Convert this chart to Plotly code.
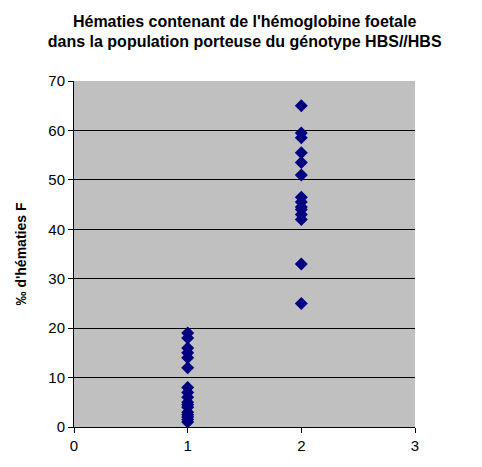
import plotly.graph_objects as go

group1_x = [1] * 17
group1_y = [19, 18, 16, 15, 14, 12, 8, 7, 6, 5, 4.5, 4, 3, 2.5, 2, 1.5, 1]
group2_x = [2] * 14
group2_y = [65, 59.5, 58.5, 55.5, 53.5, 51, 46.5, 45.5, 44.5, 44, 43, 42, 33, 25]

x_vals = group1_x + group2_x
y_vals = group1_y + group2_y

title_text = "Hématies contenant de l'hémoglobine foetale<br>dans la population porteuse du génotype HBS//HBS"
y_title = "‰ d'hématies F"

fig = go.Figure()
fig.add_trace(go.Scatter(
    x=x_vals, y=y_vals, mode="markers",
    marker=dict(symbol="diamond", size=10, color="#000080", line=dict(width=0)),
    showlegend=False,
))

fig.update_layout(
    width=482, height=467,
    paper_bgcolor="white", plot_bgcolor="#C0C0C0",
    margin=dict(l=66, r=75, t=73, b=48),
    font=dict(family="Liberation Sans, Arial, sans-serif", size=15, color="black"),
    title=dict(text="<b>" + title_text + "</b>", x=0.491, xanchor="center", y=0.96, yanchor="top",
               font=dict(size=16, color="black")),
)
fig.update_xaxes(range=[0, 3], tickvals=[0, 1, 2, 3], showgrid=False, zeroline=False,
                 showline=True, linecolor="black", linewidth=1,
                 ticks="outside", ticklen=5, tickcolor="black",
                 tickfont=dict(size=15))
fig.update_yaxes(range=[0, 70], dtick=10, showgrid=True, gridcolor="black", gridwidth=1,
                 zeroline=False, showline=True, linecolor="black", linewidth=1,
                 ticks="outside", ticklen=5, tickcolor="black",
                 tickfont=dict(size=15), automargin=False,
                 title=dict(text="<b>" + y_title + "</b>", font=dict(size=14), standoff=18))

fig.write_html("out.html")
